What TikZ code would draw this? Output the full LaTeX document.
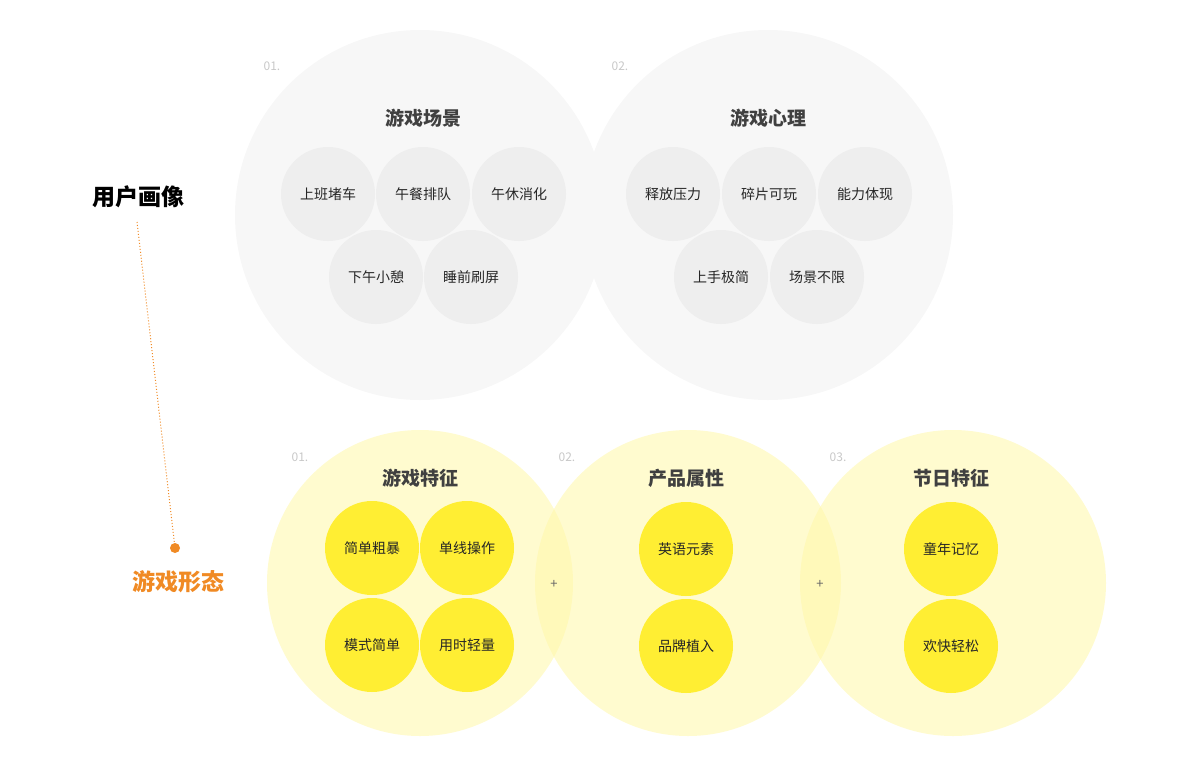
\documentclass[tikz,border=0pt]{standalone}
\usepackage{fontspec}
\setmainfont{Noto Sans CJK SC}
\newfontfamily\cjkb{Noto Sans CJK SC}[BoldFont={Noto Sans CJK SC Bold}]
\definecolor{bigg}{HTML}{F7F7F7}
\definecolor{smallg}{HTML}{EEEEEE}
\definecolor{bigy}{HTML}{FFF7A8}
\definecolor{smally}{HTML}{FFEE33}
\definecolor{orng}{HTML}{F08A24}
\definecolor{numc}{HTML}{C8C8C8}
\begin{document}
\begin{tikzpicture}[x=1pt,y=-1pt,
  bigcircg/.style={circle,fill=bigg,minimum size=370pt,inner sep=0pt},
  smallc/.style={circle,fill=smallg,minimum size=94pt,inner sep=0pt,font=\fontsize{14}{16}\selectfont,text=black!85},
  bigcircy/.style={circle,fill=bigy,fill opacity=0.55,text opacity=1,minimum size=306pt,inner sep=0pt},
  smallyc/.style={circle,fill=smally,minimum size=94pt,inner sep=0pt,font=\fontsize{14}{16}\selectfont,text=black!85},
  ttl/.style={font=\fontsize{19}{22}\selectfont\bfseries,text=black!75},
  num/.style={font=\fontsize{12}{14}\selectfont,text=numc},
  plus/.style={font=\fontsize{13}{14}\selectfont,text=black!60}]
\useasboundingbox (0,0) rectangle (1200,764);
\node[bigcircg] (B1) at (420,215) {};
\node[bigcircg] (B2) at (768,215) {};
\node[num] (n1) at (272,66) {01.};
\node[num] (n2) at (620,66) {02.};
\node[ttl] (t1) at (423,118) {游戏场景};
\node[ttl] (t2) at (768,118) {游戏心理};
\node[smallc] (a1) at (328,194) {上班堵车};
\node[smallc] (a2) at (423,194) {午餐排队};
\node[smallc] (a3) at (519,194) {午休消化};
\node[smallc] (a4) at (376,277) {下午小憩};
\node[smallc] (a5) at (471,277) {睡前刷屏};
\node[smallc] (b1) at (673,194) {释放压力};
\node[smallc] (b2) at (769,194) {碎片可玩};
\node[smallc] (b3) at (865,194) {能力体现};
\node[smallc] (b4) at (721,277) {上手极简};
\node[smallc] (b5) at (817,277) {场景不限};
\node[bigcircy] (Y1) at (420,583) {};
\node[bigcircy] (Y2) at (688,583) {};
\node[bigcircy] (Y3) at (953,583) {};
\node[num] (m1) at (300,457) {01.};
\node[num] (m2) at (567,457) {02.};
\node[num] (m3) at (838,457) {03.};
\node[ttl] (u1) at (420,478) {游戏特征};
\node[ttl] (u2) at (686,478) {产品属性};
\node[ttl] (u3) at (951,478) {节日特征};
\node[smallyc] (c1) at (372,548) {简单粗暴};
\node[smallyc] (c2) at (467,548) {单线操作};
\node[smallyc] (c3) at (372,645) {模式简单};
\node[smallyc] (c4) at (467,645) {用时轻量};
\node[smallyc] (d1) at (686,549) {英语元素};
\node[smallyc] (d2) at (686,646) {品牌植入};
\node[smallyc] (e1) at (951,549) {童年记忆};
\node[smallyc] (e2) at (951,646) {欢快轻松};
\node[plus] (p1) at (554,584) {+};
\node[plus] (p2) at (820,584) {+};
\node[font=\fontsize{23}{26}\selectfont\bfseries,text=black] (L1) at (138,197) {用户画像};
\node[font=\fontsize{23}{26}\selectfont\bfseries,text=orng] (L2) at (178,582) {游戏形态};
\node[circle,fill=orng,minimum size=10pt,inner sep=0pt] (dot) at (175,548) {};
\coordinate (s) at (137,222);
\draw[orng,dotted,line width=1pt] (s) -- (dot);
\end{tikzpicture}
\end{document}
